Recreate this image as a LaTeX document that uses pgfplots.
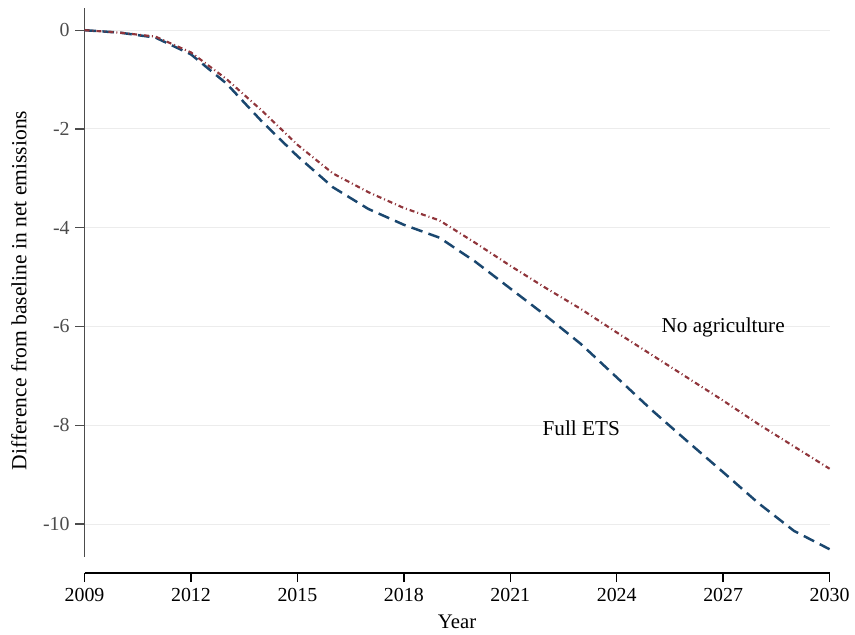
\documentclass[border=0pt]{standalone}
\usepackage{fontspec}
\setmainfont{Liberation Serif}
\usepackage{pgfplots}
\pgfplotsset{compat=1.18}
\definecolor{stblue}{HTML}{1A476F}
\definecolor{stred}{HTML}{90353B}
\definecolor{gridc}{HTML}{ECECEC}
\begin{document}
\begin{tikzpicture}
\begin{axis}[
  name=ax,
  scale only axis,
  width=449.4pt, height=340.8pt,
  xmin=2009, xmax=2030,
  ymin=-10.99, ymax=0.45,
  axis x line=bottom, axis y line=left,
  axis line style={-},
  y axis line style={draw=none},
  x axis line style={black, line width=0.8pt},
  xtick={2009,2012,2015,2018,2021,2024,2027,2030},
  ytick={0,-2,-4,-6,-8,-10},
  xticklabel style={/pgf/number format/1000 sep={}, font=\fontsize{12}{14}\selectfont, text=black},
  yticklabel style={font=\fontsize{12}{14}\selectfont, text=black!70},
  /pgf/number format/assume math mode=true,
  tick align=outside,
  major tick length=5.5pt,
  x tick style={black, line width=0.8pt},
  y tick style={black!70, line width=0.8pt},
  ymajorgrids,
  grid style={gridc, line width=0.6pt},
  xlabel={Year},
  xlabel style={font=\fontsize{12.5}{14}\selectfont, yshift=-1.5pt},
  ylabel={Difference from baseline in net emissions},
  ylabel style={font=\fontsize{13}{15}\selectfont, yshift=3pt},
  clip=false,
]
\draw[black!70, line width=1.1pt] (axis cs:2009,-10.66) -- (axis cs:2009,0.45);
\addplot[stblue, line width=1.5pt, dash pattern=on 7pt off 3.8pt] coordinates {
(2009,0) (2010,-0.05) (2011,-0.15) (2012,-0.49) (2013,-1.08) (2014,-1.85)
(2015,-2.55) (2016,-3.18) (2017,-3.62) (2018,-3.94) (2019,-4.2) (2020,-4.68)
(2021,-5.23) (2022,-5.78) (2023,-6.36) (2024,-7.03) (2025,-7.7) (2026,-8.33)
(2027,-8.95) (2028,-9.58) (2029,-10.14) (2030,-10.51)};
\addplot[stred, line width=1.3pt, dash pattern=on 3pt off 1.8pt on 0.6pt off 1.8pt] coordinates {
(2009,0) (2010,-0.05) (2011,-0.13) (2012,-0.45) (2013,-0.99) (2014,-1.63)
(2015,-2.32) (2016,-2.9) (2017,-3.28) (2018,-3.6) (2019,-3.85) (2020,-4.3)
(2021,-4.77) (2022,-5.22) (2023,-5.65) (2024,-6.12) (2025,-6.58) (2026,-7.04)
(2027,-7.5) (2028,-7.98) (2029,-8.43) (2030,-8.88)};
\node[font=\fontsize{12.8}{15}\selectfont] at (axis cs:2027,-6.02) {No agriculture};
\node[font=\fontsize{12.8}{15}\selectfont] at (axis cs:2023,-8.07) {Full ETS};
\end{axis}
\path ([shift={(-51pt,-34.2pt)}]ax.south west) rectangle ([shift={(12.6pt,4.8pt)}]ax.north east);
\end{tikzpicture}
\end{document}
